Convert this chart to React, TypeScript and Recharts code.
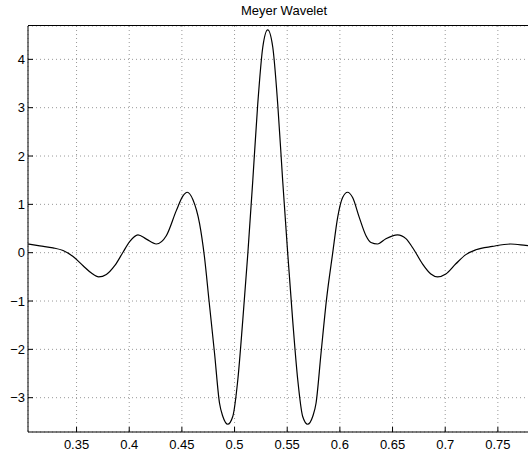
import React from "react";
import { LineChart, Line, XAxis, YAxis, CartesianGrid } from "recharts";

const title = "Meyer Wavelet";

const xValues = [
  0.304, 0.3151, 0.3277, 0.3372, 0.3467, 0.3562, 0.3641, 0.371, 0.3783, 0.3862,
  0.3941, 0.4004, 0.4083, 0.4163, 0.4257, 0.4352, 0.4447, 0.4509, 0.4551, 0.4604,
  0.4668, 0.4715, 0.4758, 0.481, 0.4857, 0.4889, 0.4936, 0.4983, 0.5031, 0.5078,
  0.5126, 0.5173, 0.522, 0.5268, 0.5315, 0.5363, 0.541, 0.5457, 0.5505, 0.5552,
  0.56, 0.5647, 0.5694, 0.5742, 0.5774, 0.5821, 0.5874, 0.5931, 0.5979, 0.6026,
  0.6073, 0.6121, 0.6184, 0.6248, 0.6295, 0.6358, 0.6437, 0.6547, 0.6627, 0.6706,
  0.6784, 0.6864, 0.6927, 0.7006, 0.7101, 0.7196, 0.7291, 0.7448, 0.7622, 0.7764,
  0.79,
];

const yValues = [
  0.18, 0.14, 0.1, 0.045, -0.08, -0.27, -0.42, -0.5, -0.45, -0.27,
  0.01, 0.23, 0.37, 0.28, 0.18, 0.35, 0.87, 1.17, 1.25, 1.1,
  0.6, -0.1, -1.0, -2.08, -3.11, -3.39, -3.55, -3.39, -2.63, -1.4,
  -0.02, 1.49, 3.07, 4.25, 4.61, 4.25, 3.07, 1.49, -0.02, -1.4,
  -2.63, -3.39, -3.55, -3.39, -3.11, -2.08, -0.95, -0.02, 0.73, 1.14,
  1.25, 1.14, 0.73, 0.35, 0.21, 0.18, 0.29, 0.37, 0.29, 0.05,
  -0.23, -0.44, -0.5, -0.44, -0.23, -0.04, 0.06, 0.13, 0.18, 0.15,
  0.12,
];

const xTicks = [0.35, 0.4, 0.45, 0.5, 0.55, 0.6, 0.65, 0.7, 0.75];
const yTicks = [-3, -2, -1, 0, 1, 2, 3, 4];
const yDomain = [-3.71, 4.69];
const xDomain = [0.3039, 0.79];

const data = xValues.map((x, i) => ({ x, y: yValues[i] }));
const font = "'Liberation Sans', Arial, Helvetica, sans-serif";
const tickStyle = { fill: "#000", fontSize: 13, fontFamily: font };
const minus = (v: number) => String(v).replace("-", "\u2212");

export default function App() {
  return (
    <div
      style={{
        position: "absolute",
        left: 0,
        top: 0,
        width: 528,
        height: 457,
        overflow: "hidden",
        background: "#fff",
        fontFamily: font,
      }}
    >
      <div
        style={{
          position: "absolute",
          left: 0,
          top: 3,
          width: 568,
          textAlign: "center",
          fontSize: 13,
          lineHeight: "16px",
          color: "#000",
        }}
      >
        {title}
      </div>
      <div style={{ position: "absolute", left: 0, top: 0 }}>
        <LineChart
          width={560}
          height={457}
          data={data}
          margin={{ top: 26, right: 20, bottom: 0, left: 0 }}
        >
          <CartesianGrid stroke="#999" strokeDasharray="1 3" />
          <XAxis
            dataKey="x"
            type="number"
            domain={xDomain}
            ticks={xTicks}
            interval={0}
            allowDataOverflow
            height={25}
            tickSize={-5}
            tickMargin={13}
            stroke="#000"
            tick={tickStyle}
          />
          <YAxis
            type="number"
            domain={yDomain}
            ticks={yTicks}
            interval={0}
            allowDataOverflow
            width={28}
            tickSize={-5}
            tickMargin={8}
            stroke="#000"
            tick={tickStyle}
            tickFormatter={minus}
          />
          <Line
            type="monotone"
            dataKey="y"
            stroke="#000"
            strokeWidth={1.2}
            dot={false}
            isAnimationActive={false}
          />
        </LineChart>
      </div>
      <div
        style={{
          position: "absolute",
          left: 28,
          top: 25,
          width: 520,
          height: 1,
          background: "#000",
          zIndex: 5,
        }}
      />
    </div>
  );
}
